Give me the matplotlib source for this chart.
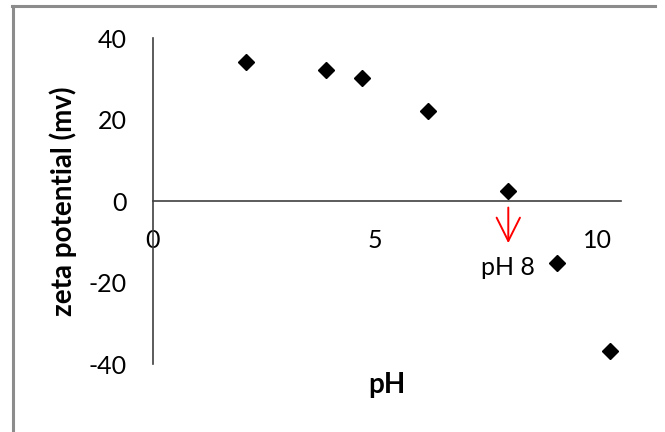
import matplotlib.pyplot as plt
from matplotlib.lines import Line2D

# zeta potential vs pH
ph = [2.1, 3.9, 4.7, 6.2, 8.0, 9.1, 10.3]
zeta = [34.0, 32.2, 30.3, 22.2, 2.5, -15.3, -36.8]
xticks = [0, 5, 10]
yticks = [-40, -20, 0, 20, 40]

plt.rcParams['font.family'] = ['Lato', 'DejaVu Sans']
plt.rcParams['axes.unicode_minus'] = False

fig = plt.figure(figsize=(6.65, 4.32), dpi=100)
ax = fig.add_axes([0.230, 0.157, 0.704, 0.755])

ax.plot(ph, zeta, 'D', color='black', markersize=8.5, clip_on=False)

ax.set_xlim(0, 10.54)
ax.set_ylim(-40, 40)
ax.set_xticks(xticks)
ax.set_yticks(yticks)
ax.tick_params(length=0, labelsize=18, colors='black')
ax.tick_params(axis='x', pad=20)
ax.tick_params(axis='y', pad=19)

for s in ['top', 'right']:
    ax.spines[s].set_visible(False)
ax.spines['bottom'].set_position(('data', 0))
ax.spines['left'].set_position(('data', 0))
for s in ['bottom', 'left']:
    ax.spines[s].set_color('#404040')
    ax.spines[s].set_linewidth(1.2)

ax.set_xlabel('pH', fontsize=20, fontweight='bold')
ax.xaxis.set_label_coords(0.50, -0.025)
ax.set_ylabel('zeta potential (mv)', fontsize=20, fontweight='bold')
ax.yaxis.set_label_coords(-0.162, 0.5)

# red arrow marking the isoelectric point
ax.annotate('', xy=(8.0, -11.0), xytext=(8.0, -0.9),
            arrowprops=dict(arrowstyle='->,head_length=0.7,head_width=0.35',
                            color='red', lw=1.4, mutation_scale=24))
ax.text(8.0, -16.4, 'pH 8', fontsize=18, ha='center', va='center')

# gray chart-area frame (left and top edges visible)
fig.add_artist(Line2D([0.019, 0.019], [0.0, 0.985], color='#8c8c8c', lw=2.2,
                      transform=fig.transFigure))
fig.add_artist(Line2D([0.018, 0.985], [0.985, 0.985], color='#8c8c8c', lw=2.2,
                      transform=fig.transFigure))

fig.savefig('out.png', dpi=100)
